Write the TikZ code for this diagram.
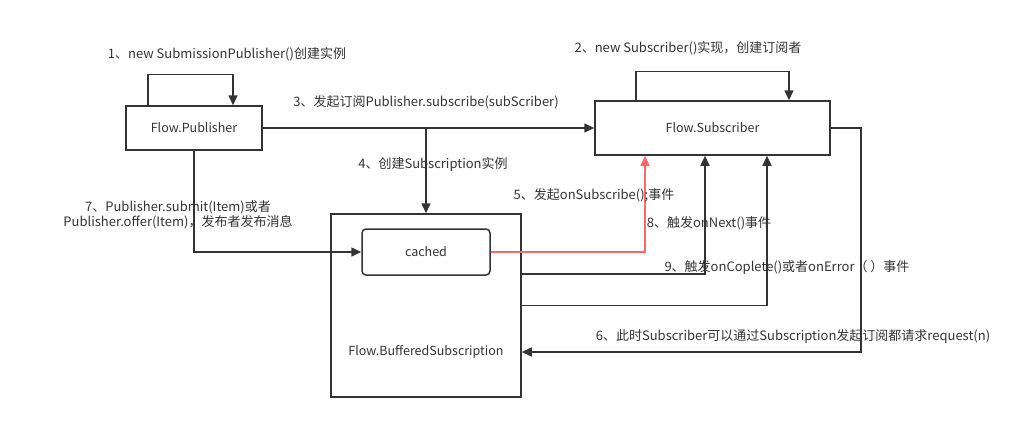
\documentclass[tikz,border=0pt]{standalone}
\usepackage{fontspec}
\setmainfont{Noto Sans CJK SC}
\usetikzlibrary{arrows.meta}

\definecolor{ink}{HTML}{333333}
\definecolor{hot}{HTML}{FF6666}

\tikzset{
  box/.style={draw=ink,line width=1.5pt,fill=white,inner sep=0pt},
  line/.style={draw=ink,line width=1.5pt},
  arr/.style={line,-{Triangle[length=10pt,width=9pt]}},
  lbl/.style={text=ink,inner sep=1pt,font=\fontsize{13}{15.5}\selectfont}
}

\begin{document}
\begin{tikzpicture}[x=1pt,y=-1pt]

  \useasboundingbox (0,0) rectangle (1015,423);

  \begin{scope}[every node/.append style={text=ink,font=\fontsize{12.5}{15}\selectfont}]
    \node[box,minimum width=136pt,minimum height=44pt] (pub) at (194,128) {Flow.Publisher};
    \node[box,minimum width=235pt,minimum height=54pt] (sub) at (712.5,128) {Flow.Subscriber};
    \node[box,minimum width=190pt,minimum height=183pt] (buff) at (426,305.5) {};
    \node (bufftext) at (426,352) {Flow.BufferedSubscription};
    \node[box,rounded corners=4pt,minimum width=128pt,minimum height=46pt] (cached) at (426,252) {cached};
  \end{scope}

  % self loops
  \draw[arr] ([xshift=-46pt]pub.north) -- ++(0,-31) -| ([xshift=39pt]pub.north);
  \draw[arr] ([xshift=-76.5pt]sub.north) -- ++(0,-29) -| ([xshift=76.5pt]sub.north);

  % subscribe
  \draw[arr] (pub.east) -- (sub.west);
  \coordinate (fork) at (buff.north |- pub.east);
  \draw[arr] (fork) -- (buff.north);

  % events back to subscriber
  \draw[arr,draw=hot,-{Triangle[length=10pt,width=9pt,fill=hot]}] (cached.east) -| ([xshift=-67.5pt]sub.south);
  \draw[arr] ([yshift=31.5pt]buff.east) -| ([xshift=-7.5pt]sub.south);
  \draw[arr] (buff.east) -| ([xshift=54.5pt]sub.south);

  % request(n)
  \draw[arr] (sub.east) -- ++(30,0) |- ([yshift=-46.5pt]buff.east);

  % submit / offer
  \draw[arr] (pub.south) |- (cached.west);

  % labels
  \node[lbl] (lab1) at (227,54) {1、new SubmissionPublisher()创建实例};
  \node[lbl] (lab2) at (688,48) {2、new Subscriber()实现，创建订阅者};
  \node[lbl] (lab3) at (426,102) {3、发起订阅Publisher.subscribe(subScriber)};
  \node[lbl] (lab4) at (433,164) {4、创建Subscription实例};
  \node[lbl] (lab5) at (594,195) {5、发起onSubscribe();事件};
  \node[lbl] (lab8) at (709,223) {8、触发onNext()事件};
  \node[lbl] (lab9) at (787,267) {9、触发onCoplete()或者onError（ ）事件};
  \node[lbl] (lab6) at (793,336) {6、此时Subscriber可以通过Subscription发起订阅都请求request(n)};
  \node[lbl,align=center] (lab7) at (178,215) {7、Publisher.submit(Item)或者\\Publisher.offer(Item)，发布者发布消息};

\end{tikzpicture}
\end{document}
